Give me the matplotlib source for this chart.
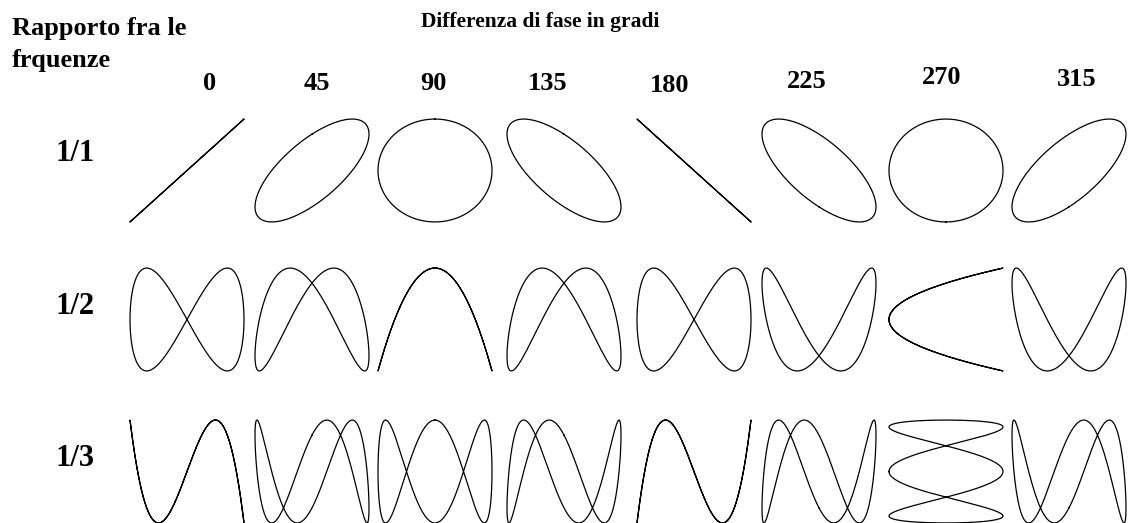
import numpy as np
import matplotlib
matplotlib.use("Agg")
import matplotlib.pyplot as plt

# frequency ratios (rows) and phase differences in degrees (columns)
ratios = [1, 2, 3]
row_labels = ["1/1", "1/2", "1/3"]
phases = [0, 45, 90, 135, 180, 225, 270, 315]
phase_labels = ["0", "45", "90", "135", "180", "225", "270", "315"]
# cells that the original drawing shows rotated by 90 degrees
swapped = [(2, 270), (3, 270)]

W, H = 1135, 523
fig = plt.figure(figsize=(W / 100, H / 100), dpi=100)
fig.patch.set_facecolor("white")

# layout in pixels
col_left = [130, 255, 378, 507, 637, 762, 889, 1012]
col_width = 114
row_top = [119, 268, 420]
row_height = 103
label_pos = [(210, 83), (317, 83), (433, 83), (548, 83),
             (670, 85), (807, 82), (942, 78), (1077, 80)]
row_label_y = [153, 307, 458]

font = "Liberation Serif"

def px_text(x, y, s, **kw):
    fig.text(x / W, 1 - y / H, s, family=font, **kw)

t = np.linspace(0, 2 * np.pi, 1200)

for i, n in enumerate(ratios):
    for j, ph in enumerate(phases):
        x0 = col_left[j] - 2
        y0 = row_top[i] - 2
        ax = fig.add_axes([x0 / W, 1 - (y0 + row_height + 4) / H,
                           (col_width + 4) / W, (row_height + 4) / H])
        x = np.sin(t)
        y = np.sin(n * t + np.radians(ph))
        if (n, ph) in swapped:
            x, y = y, x
        ax.plot(x, y, color="black", lw=0.9, clip_on=False)
        ax.set_xlim(-1.035, 1.035)
        ax.set_ylim(-1.04, 1.04)
        ax.axis("off")

# header texts
px_text(12, 28, "Rapporto fra le", fontsize=19, weight="bold", va="center")
px_text(12, 60, "frquenze", fontsize=19, weight="bold", va="center")
px_text(540, 22, "Differenza di fase in gradi", fontsize=15.5, weight="bold",
        ha="center", va="center")

for (x, y), s in zip(label_pos, phase_labels):
    px_text(x, y, s, fontsize=19, weight="bold", ha="center", va="center")

for y, s in zip(row_label_y, row_labels):
    px_text(75, y, s, fontsize=22, weight="bold", ha="center", va="center")

fig.savefig("out.png", dpi=100, facecolor="white")
